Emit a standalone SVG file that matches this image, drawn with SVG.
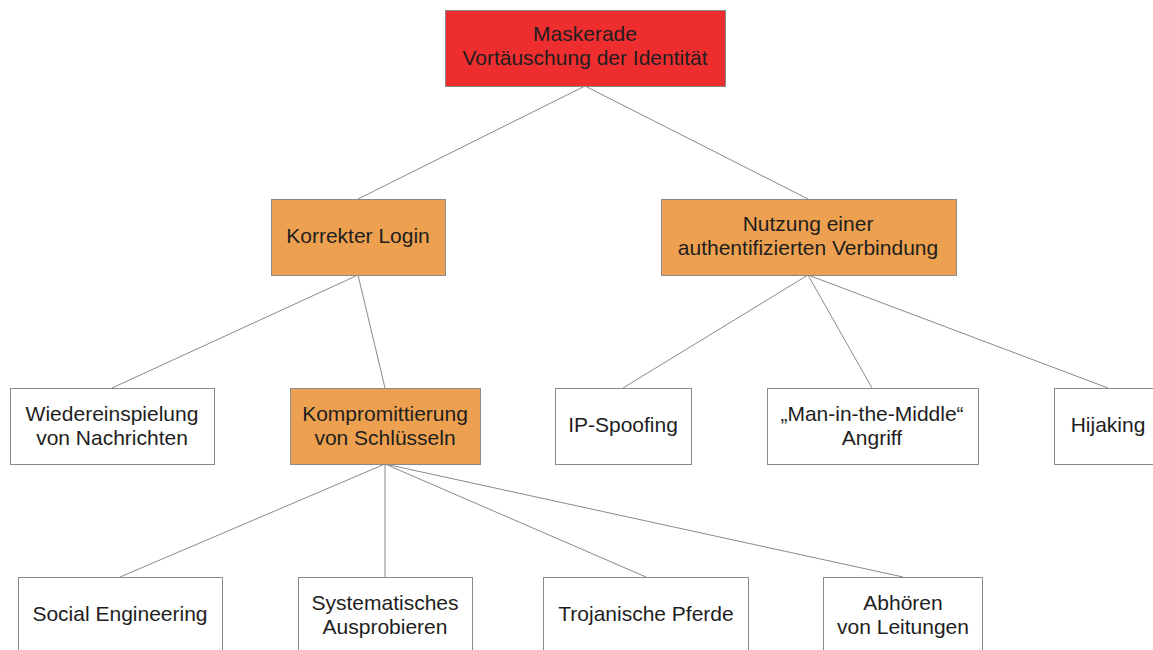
<svg xmlns="http://www.w3.org/2000/svg" width="1153" height="650" viewBox="0 0 1153 650">
<style>
.b{stroke:#8a8a8a;stroke-width:1}
.w{fill:#ffffff}
.o{fill:#eda150}
.r{fill:#ee2d2f}
text{font-family:"Liberation Sans",Arial,sans-serif;font-size:21px;fill:#1e1e1e;text-anchor:middle}
.c line{stroke:#8a8a8a;stroke-width:1}
</style>
<rect width="1153" height="650" fill="#ffffff"/>
<g class="c" id="connectors">
<line x1="585" y1="86" x2="358" y2="199"/>
<line x1="585" y1="86" x2="808" y2="199"/>
<line x1="358" y1="275" x2="112" y2="388"/>
<line x1="358" y1="275" x2="385" y2="388"/>
<line x1="808" y1="275" x2="623" y2="388"/>
<line x1="808" y1="275" x2="872" y2="388"/>
<line x1="808" y1="275" x2="1108" y2="388"/>
<line x1="385" y1="464" x2="120" y2="577"/>
<line x1="385" y1="464" x2="385" y2="577"/>
<line x1="385" y1="464" x2="646" y2="577"/>
<line x1="385" y1="464" x2="903" y2="577"/>
</g>
<g id="maskerade"><rect class="b r" x="445.5" y="10.5" width="280" height="76"/><text x="585" y="41">Maskerade</text><text x="585" y="65">Vortäuschung der Identität</text></g>
<g id="login"><rect class="b o" x="271.5" y="199.5" width="174" height="76"/><text x="358" y="243">Korrekter Login</text></g>
<g id="nutzung"><rect class="b o" x="661.5" y="199.5" width="295" height="76"/><text x="808" y="231">Nutzung einer</text><text x="808" y="255">authentifizierten Verbindung</text></g>
<g id="wieder"><rect class="b w" x="10.5" y="388.5" width="204" height="76"/><text x="112" y="421">Wiedereinspielung</text><text x="112" y="445">von Nachrichten</text></g>
<g id="kompromittierung"><rect class="b o" x="290.5" y="388.5" width="190" height="76"/><text x="385" y="421">Kompromittierung</text><text x="385" y="445">von Schlüsseln</text></g>
<g id="ipspoofing"><rect class="b w" x="555.5" y="388.5" width="136" height="76"/><text x="623" y="432">IP-Spoofing</text></g>
<g id="mitm"><rect class="b w" x="767.5" y="388.5" width="211" height="76"/><text x="872" y="421">„Man-in-the-Middle“</text><text x="872" y="445">Angriff</text></g>
<g id="hijaking"><rect class="b w" x="1054.5" y="388.5" width="110" height="76"/><text x="1108" y="432">Hijaking</text></g>
<g id="social"><rect class="b w" x="18.5" y="577.5" width="204" height="90"/><text x="120" y="621">Social Engineering</text></g>
<g id="systematisch"><rect class="b w" x="298.5" y="577.5" width="174" height="90"/><text x="385" y="610">Systematisches</text><text x="385" y="634">Ausprobieren</text></g>
<g id="trojaner"><rect class="b w" x="543.5" y="577.5" width="205" height="90"/><text x="646" y="621">Trojanische Pferde</text></g>
<g id="abhoeren"><rect class="b w" x="823.5" y="577.5" width="159" height="90"/><text x="903" y="610">Abhören</text><text x="903" y="634">von Leitungen</text></g>
</svg>
